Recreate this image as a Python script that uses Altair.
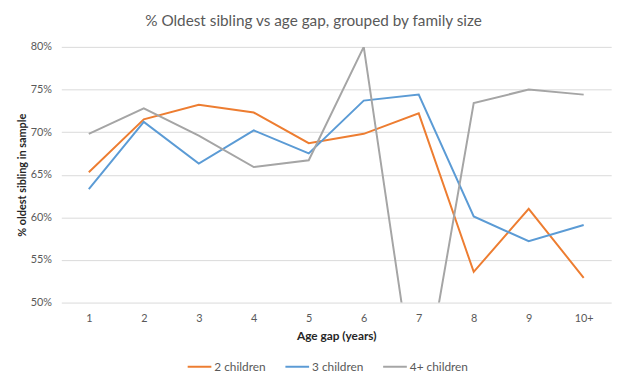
import altair as alt
import pandas as pd

age_gaps = ["1", "2", "3", "4", "5", "6", "7", "8", "9", "10+"]
two_children = [0.653, 0.715, 0.732, 0.723, 0.687, 0.698, 0.722, 0.536, 0.610, 0.529]
three_children = [0.633, 0.712, 0.663, 0.702, 0.675, 0.737, 0.744, 0.601, 0.572, 0.591]
four_plus_children = [0.698, 0.728, 0.696, 0.659, 0.667, 0.800, 0.363, 0.734, 0.750, 0.744]
series_names = ["2 children", "3 children", "4+ children"]
series_colors = ["#ED7D31", "#5B9BD5", "#A5A5A5"]

rows = []
for name, vals in zip(series_names, [two_children, three_children, four_plus_children]):
    for g, v in zip(age_gaps, vals):
        rows.append({"gap": g, "pct": v, "series": name})
df = pd.DataFrame(rows)

FONT = "Lato"
TXT = "#595959"

chart = alt.Chart(df).mark_line(strokeWidth=2, clip=True).encode(
    x=alt.X("gap:N", sort=age_gaps,
            scale=alt.Scale(type="point", padding=0.5),
            axis=alt.Axis(title="Age gap (years)", labelAngle=0, ticks=False, domain=False,
                          grid=False, labelPadding=10, titlePadding=7,
                          labelColor=TXT, labelFontSize=11, labelFont=FONT,
                          titleColor="#262626", titleFontSize=12, titleFont=FONT,
                          titleFontWeight="bold")),
    y=alt.Y("pct:Q", scale=alt.Scale(domain=[0.5, 0.8], nice=False, zero=False),
            axis=alt.Axis(title="% oldest sibling in sample", format=".0%",
                          values=[0.5, 0.55, 0.6, 0.65, 0.7, 0.75, 0.8],
                          ticks=False, domain=False, grid=True, gridColor="#d9d9d9",
                          gridWidth=1, labelPadding=10, titlePadding=3,
                          labelColor=TXT, labelFontSize=11, labelFont=FONT,
                          titleColor="#262626", titleFontSize=11, titleFont=FONT,
                          titleFontWeight="bold")),
    color=alt.Color("series:N", sort=series_names,
                    scale=alt.Scale(domain=series_names, range=series_colors),
                    legend=alt.Legend(title=None, orient="none", direction="horizontal",
                                      legendX=127, legendY=311, symbolType="stroke",
                                      symbolSize=576, symbolStrokeWidth=2,
                                      labelFontSize=12, labelFont=FONT, labelColor=TXT,
                                      labelOffset=2, columnPadding=15, padding=0,
                                      gridAlign="none")),
).properties(
    width=557, height=259,
    autosize=alt.AutoSizeParams(type="none"),
    padding={"left": 54, "top": 37, "right": 14, "bottom": 74},
    title=alt.TitleParams("% Oldest sibling vs age gap, grouped by family size",
                          font=FONT, fontSize=15.5, fontWeight="normal", color=TXT,
                          anchor="middle", offset=12, dx=-23),
).configure_view(stroke=None)

chart.save("out.html", embed_options={"renderer": "svg", "actions": False})
